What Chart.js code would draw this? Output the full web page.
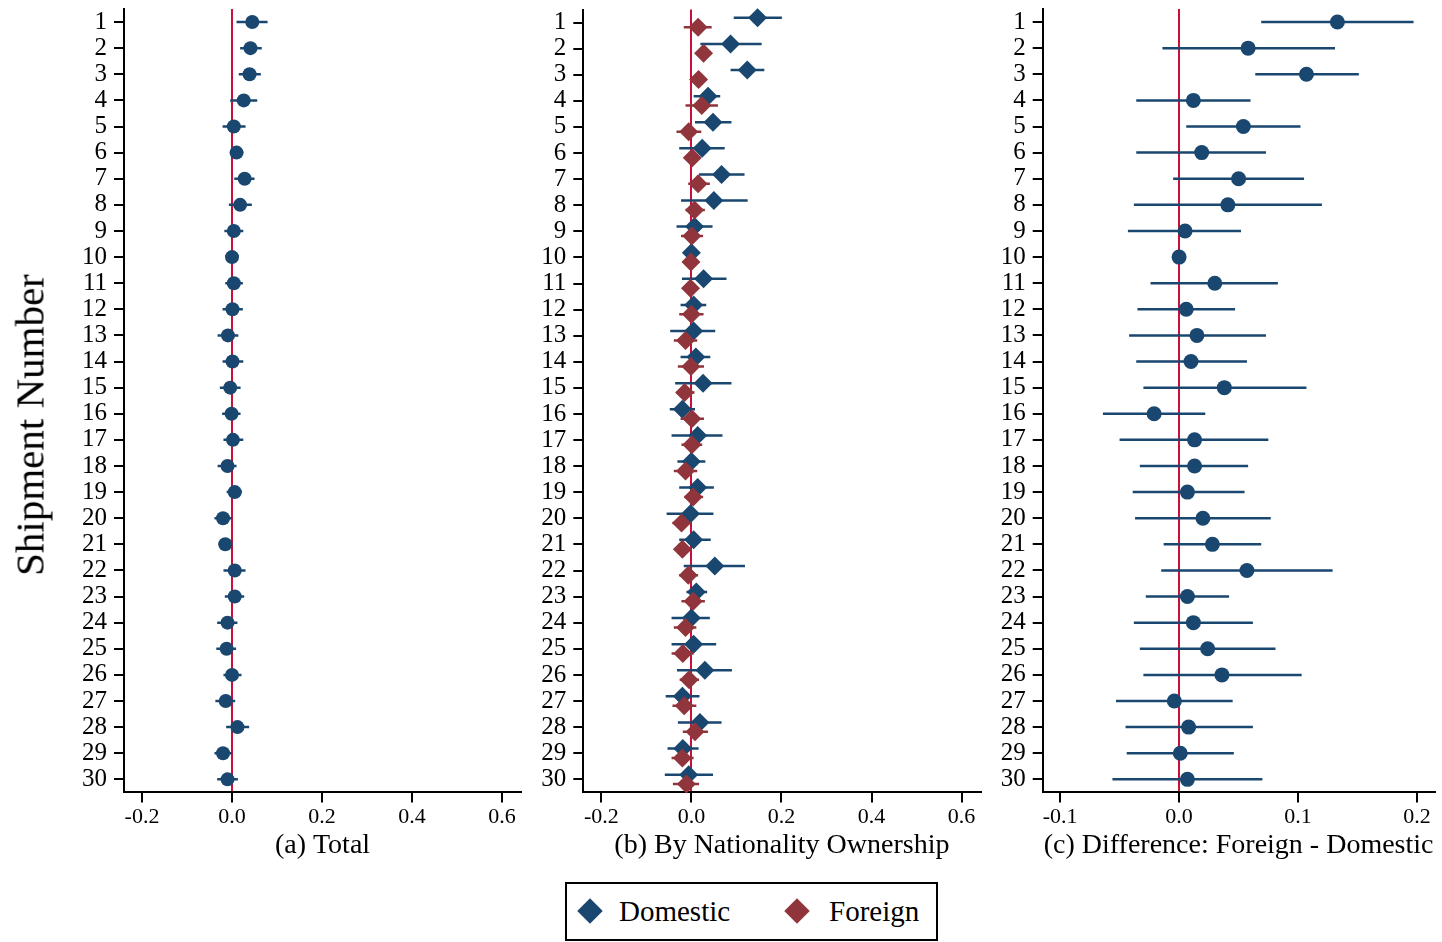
<!DOCTYPE html>
<html>
<head>
<meta charset="utf-8">
<script src="https://cdn.jsdelivr.net/npm/chart.js"></script>
<style>
  body { margin: 0; background: #fff; width: 1442px; height: 942px; position: relative; overflow: hidden;
         font-family: "Liberation Serif", "Times New Roman", serif; }
  .panel { position: absolute; top: 0; }
  #ytitle { position: absolute; left: 30px; top: 425px; transform: translate(-50%, -50%) rotate(-90deg);
            font-size: 41px; line-height: 1; white-space: nowrap; color: #000; }
  #legend { position: absolute; left: 565px; top: 882px; width: 373px; height: 59px; box-sizing: border-box;
            border: 2px solid #000; background: #fff; }
  #legend .dia { position: absolute; width: 18px; height: 18px; transform: rotate(45deg); }
  #legend .txt { position: absolute; top: 0; height: 55px; line-height: 55px; font-size: 29px; color: #000; }
</style>
</head>
<body>
<div class="panel" style="left:0px"><canvas id="chartA" width="530" height="870"></canvas></div>
<div class="panel" style="left:530px"><canvas id="chartB" width="460" height="870"></canvas></div>
<div class="panel" style="left:990px"><canvas id="chartC" width="452" height="870"></canvas></div>
<div id="ytitle">Shipment Number</div>
<div id="legend">
  <span class="dia" style="left:14px;top:18px;background:#1a476f"></span><span class="txt" style="left:52px">Domestic</span>
  <span class="dia" style="left:221px;top:18px;background:#90353b"></span><span class="txt" style="left:262px">Foreign</span>
</div>
<script>
var shipments = [1,2,3,4,5,6,7,8,9,10,11,12,13,14,15,16,17,18,19,20,21,22,23,24,25,26,27,28,29,30];

// (a) total
var totalEst = [0.045,0.041,0.039,0.026,0.004,0.010,0.028,0.018,0.004,0.000,0.004,0.001,-0.009,0.001,-0.004,
                -0.001,0.002,-0.010,0.006,-0.020,-0.015,0.006,0.006,-0.010,-0.012,0.000,-0.014,0.012,-0.020,-0.010];
var totalLo  = [0.010,0.018,0.015,-0.004,-0.021,-0.004,0.005,-0.007,-0.017,-0.013,-0.015,-0.021,-0.032,-0.021,-0.027,
                -0.022,-0.019,-0.032,-0.012,-0.039,-0.030,-0.019,-0.016,-0.033,-0.035,-0.019,-0.037,-0.013,-0.039,-0.033];
var totalHi  = [0.079,0.066,0.064,0.056,0.030,0.025,0.050,0.044,0.025,0.014,0.024,0.024,0.014,0.025,0.019,
                0.019,0.025,0.010,0.022,0.000,0.001,0.030,0.027,0.012,0.009,0.021,0.007,0.038,0.000,0.013];

// (b) by nationality ownership
var domEst = [0.147,0.087,0.124,0.037,0.048,0.024,0.067,0.050,0.007,0.000,0.027,0.005,0.005,0.010,0.026,
              -0.020,0.014,0.000,0.014,-0.002,0.005,0.052,0.011,0.000,0.005,0.030,-0.020,0.019,-0.019,-0.006];
var domLo  = [0.094,0.020,0.087,0.005,0.008,-0.027,0.017,-0.023,-0.033,-0.011,-0.021,-0.024,-0.047,-0.024,-0.036,
              -0.048,-0.044,-0.031,-0.027,-0.055,-0.027,-0.017,-0.011,-0.044,-0.044,-0.032,-0.057,-0.030,-0.053,-0.059];
var domHi  = [0.201,0.156,0.162,0.064,0.089,0.074,0.118,0.125,0.047,0.011,0.078,0.033,0.053,0.042,0.089,
              0.008,0.069,0.031,0.050,0.049,0.043,0.119,0.035,0.041,0.055,0.090,0.018,0.067,0.016,0.048];
var forEst = [0.015,0.027,0.016,0.023,-0.006,0.002,0.015,0.007,0.001,-0.001,-0.002,0.000,-0.013,-0.001,-0.015,
              0.001,0.001,-0.013,0.004,-0.022,-0.020,-0.007,0.004,-0.013,-0.019,-0.005,-0.016,0.008,-0.020,-0.011];
var forLo  = [-0.017,0.011,0.000,-0.013,-0.033,-0.011,-0.007,-0.013,-0.023,-0.015,-0.019,-0.027,-0.039,-0.030,-0.033,
              -0.024,-0.022,-0.039,-0.015,-0.042,-0.037,-0.027,-0.022,-0.039,-0.044,-0.026,-0.042,-0.019,-0.044,-0.041];
var forHi  = [0.045,0.044,0.033,0.059,0.022,0.017,0.041,0.030,0.026,0.013,0.015,0.027,0.013,0.028,0.007,
              0.028,0.024,0.013,0.026,0.000,-0.002,0.015,0.030,0.011,0.005,0.017,0.011,0.037,0.005,0.017];

// (c) difference foreign - domestic
var diffEst = [0.133,0.058,0.107,0.012,0.054,0.019,0.050,0.041,0.005,0.000,0.030,0.006,0.015,0.010,0.038,
               -0.021,0.013,0.013,0.007,0.020,0.028,0.057,0.007,0.012,0.024,0.036,-0.004,0.008,0.001,0.007];
var diffLo  = [0.069,-0.014,0.064,-0.036,0.006,-0.036,-0.005,-0.038,-0.043,0.000,-0.024,-0.035,-0.042,-0.036,-0.030,
               -0.064,-0.050,-0.033,-0.039,-0.037,-0.013,-0.015,-0.028,-0.038,-0.033,-0.030,-0.053,-0.045,-0.044,-0.056];
var diffHi  = [0.197,0.131,0.151,0.060,0.102,0.073,0.105,0.120,0.052,0.000,0.083,0.047,0.073,0.057,0.107,
               0.022,0.075,0.058,0.055,0.077,0.069,0.129,0.042,0.062,0.081,0.103,0.045,0.062,0.046,0.070];

var xTicksAB = [-0.2, 0.0, 0.2, 0.4, 0.6];
var xTicksC = [-0.1, 0.0, 0.1, 0.2];

var navy = '#1a476f';
var maroon = '#90353b';
var red = '#c8103a';

Chart.defaults.font.family = '"Liberation Serif", "Times New Roman", serif';
Chart.defaults.color = '#000';

// points for estimates, shifted up/down for the two groups in panel b
function pointSet(est, shift) {
  return est.map(function(v, i) { return {x: v, y: shipments[i] + shift}; });
}

// confidence intervals as one line dataset broken by gaps
function ciSet(lo, hi, shift) {
  var pts = [];
  for (var i = 0; i < shipments.length; i++) {
    pts.push({x: lo[i], y: shipments[i] + shift});
    pts.push({x: hi[i], y: shipments[i] + shift});
    pts.push({x: null, y: null});
  }
  return pts;
}

function ciDataset(lo, hi, shift, color, order) {
  return {data: ciSet(lo, hi, shift), showLine: true, spanGaps: false, borderColor: color,
          borderWidth: 2.5, pointRadius: 0, order: order, clip: false};
}

function pointDataset(label, est, shift, color, style, radius, order) {
  return {label: label, data: pointSet(est, shift), pointStyle: style, pointRadius: radius,
          backgroundColor: color, borderColor: color, borderWidth: 0, order: order, clip: false};
}

function makePanel(id, datasets, xMin, xMax, xTicks, yWidth, rightPad, xTitle) {
  var ctx = document.getElementById(id);
  return new Chart(ctx, {
    type: 'scatter',
    data: {datasets: datasets},
    options: {
      responsive: false,
      animation: false,
      events: [],
      layout: {padding: {top: 9, right: rightPad, left: 0, bottom: 0}},
      plugins: {legend: {display: false}, tooltip: {enabled: false}},
      scales: {
        x: {
          type: 'linear', min: xMin, max: xMax,
          afterBuildTicks: function(s) { s.ticks = xTicks.map(function(v) { return {value: v}; }); },
          afterFit: function(s) { s.height = 870 - 792.4; },
          ticks: {padding: 4, autoSkip: false, maxRotation: 0, font: {size: 22, lineHeight: 1},
                  callback: function(v) { return Number(v).toFixed(1); }},
          grid: {
            color: function(c) { return c.tick && Math.abs(c.tick.value) < 1e-9 ? red : 'rgba(0,0,0,0)'; },
            tickColor: '#000', tickLength: 10, lineWidth: 2
          },
          border: {color: '#000', width: 2},
          title: {display: true, text: xTitle, font: {size: 28, lineHeight: 1.2}, padding: {top: 0, bottom: 8}}
        },
        y: {
          type: 'linear', reverse: true, min: 0.5, max: 30.5,
          afterBuildTicks: function(s) { s.ticks = shipments.map(function(v) { return {value: v}; }); },
          afterFit: function(s) { s.width = yWidth; s.paddingTop = 0; s.paddingBottom = 0; },
          ticks: {padding: 7, autoSkip: false, font: {size: 25, lineHeight: 1},
                  callback: function(v) { return String(v); }},
          grid: {drawOnChartArea: false, tickColor: '#000', tickLength: 10, lineWidth: 2},
          border: {color: '#000', width: 2}
        }
      }
    }
  });
}

makePanel('chartA', [
  pointDataset('Total', totalEst, 0, navy, 'circle', 7, 0),
  ciDataset(totalLo, totalHi, 0, navy, 1)
], -0.24, 0.642, xTicksAB, 124, 9, '(a) Total');

makePanel('chartB', [
  pointDataset('Foreign', forEst, 0.18, maroon, 'rectRot', 9.5, 0),
  ciDataset(forLo, forHi, 0.18, maroon, 1),
  pointDataset('Domestic', domEst, -0.18, navy, 'rectRot', 9.5, 2),
  ciDataset(domLo, domHi, -0.18, navy, 3)
], -0.24, 0.642, xTicksAB, 53.3, 9.4, '(b) By Nationality Ownership');

makePanel('chartC', [
  pointDataset('Difference', diffEst, 0, navy, 'circle', 7.5, 0),
  ciDataset(diffLo, diffHi, 0, navy, 1)
], -0.1146, 0.2146, xTicksC, 52.7, 2, '(c) Difference: Foreign - Domestic');
</script>
</body>
</html>
